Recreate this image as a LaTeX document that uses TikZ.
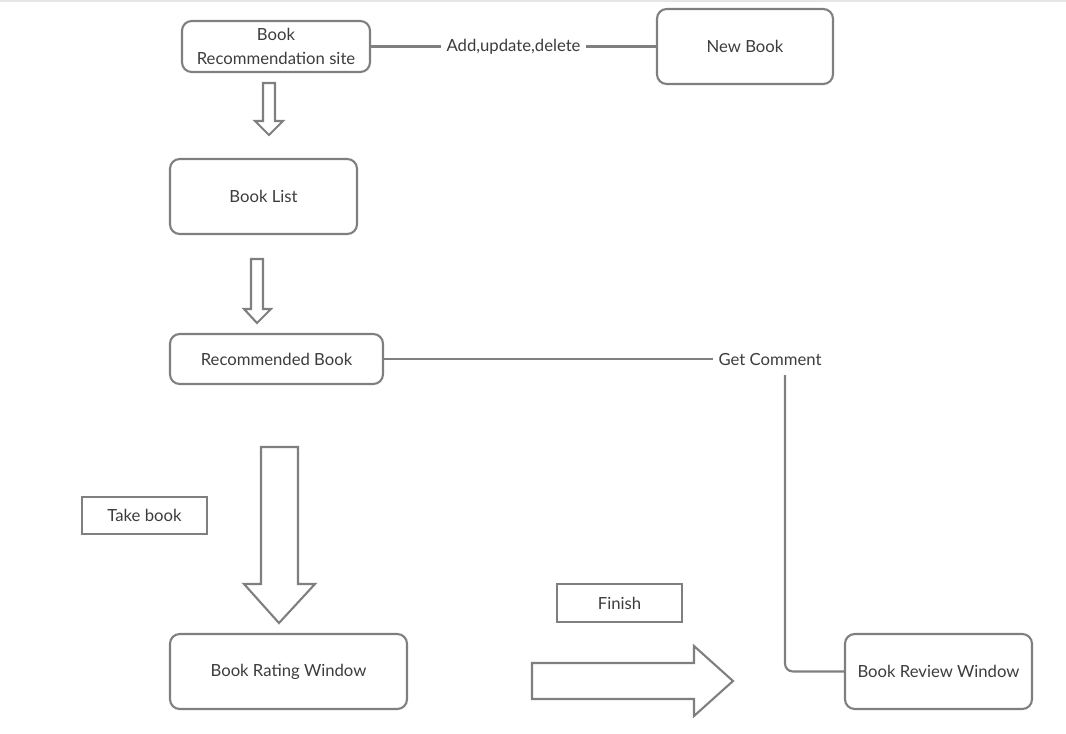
\documentclass[tikz,border=0pt]{standalone}
\usepackage{fontspec}
\setmainfont{Lato}
\usepackage{xcolor}
\usepackage{tikz}
\usetikzlibrary{positioning,calc}

\definecolor{linegray}{HTML}{7F7F7F}
\definecolor{textgray}{HTML}{3C3C3C}
\tikzset{
  box/.style={draw=linegray, line width=1.2pt, rounded corners=5.5pt, align=center, text=textgray, inner sep=0pt, font=\fontsize{9.5}{14}\selectfont},
  tag/.style={draw=linegray, line width=1.2pt, text=textgray, inner sep=0pt, font=\fontsize{9.5}{14}\selectfont},
  wire/.style={draw=linegray, line width=1.2pt},
  hollow/.style={draw=linegray, line width=1.2pt, fill=white, line join=miter},
  caption/.style={text=textgray, inner sep=3pt, font=\fontsize{9.5}{14}\selectfont}
}

\begin{document}
\begin{tikzpicture}[x=0.02cm, y=-0.02cm]
    \useasboundingbox (0,0) rectangle (1066,734);
    \draw[gray!20, line width=0.8pt] (0,1) -- (1066,1);

    % Top row
    \node[box, minimum width=3.76cm, minimum height=1.02cm] (site) at (276,46.5) {Book\\Recommendation site};
    \node[box, minimum width=3.52cm, minimum height=1.5cm] (newbook) at (745,46.5) {New Book};
    \draw[wire] (site.east) -- node[caption, fill=white] {Add,update,delete} (newbook.west);

    % Left column
    \node[box, minimum width=3.74cm, minimum height=1.5cm] (list) at (263.5,196.5) {Book List};
    \node[box, minimum width=4.26cm, minimum height=1cm] (recbook) at (276.5,359) {Recommended Book};
    \node[box, minimum width=4.74cm, minimum height=1.5cm] (rating) at (288.5,671.5) {Book Rating Window};
    \node[tag, minimum width=2.5cm, minimum height=0.74cm] (take) at (144.5,515.5) {Take book};

    % Hollow arrows
    \draw[hollow] (263,83) -- (275,83) -- (275,121) -- (283,121) -- (269,135) -- (255,121) -- (263,121) -- cycle;
    \draw[hollow] (251,259) -- (263,259) -- (263,309) -- (271,309) -- (257,323) -- (244,309) -- (251,309) -- cycle;
    \draw[hollow] (261,447) -- (298,447) -- (298,584) -- (315,584) -- (279,623) -- (244,584) -- (261,584) -- cycle;
    \draw[hollow] (532,663) -- (694,663) -- (694,646) -- (733,681) -- (694,716) -- (694,699) -- (532,699) -- cycle;

    % Right side
    \node[tag, minimum width=2.5cm, minimum height=0.76cm] (finish) at (619.5,603) {Finish};
    \node[box, minimum width=3.74cm, minimum height=1.5cm] (review) at (938.5,671.5) {Book Review Window};
    \node[caption] (comment) at (770,360) {Get Comment};
    \coordinate (drop) at (785,375);
    \draw[wire] (recbook.east) -- (recbook.east -| comment.west);
    \draw[wire, rounded corners=4.5pt] (drop) |- (review.west);
\end{tikzpicture}
\end{document}
